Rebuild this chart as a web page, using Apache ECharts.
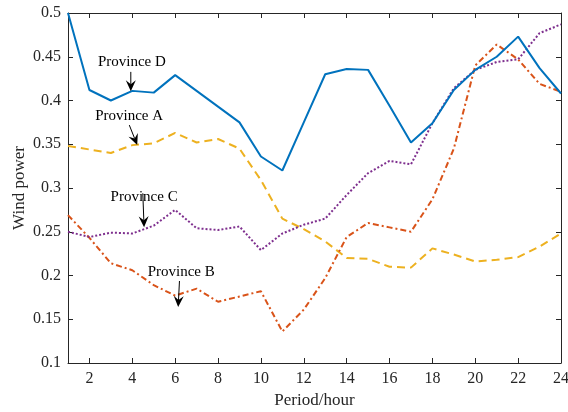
<!DOCTYPE html>
<html>
<head>
<meta charset="utf-8">
<script src="https://cdn.jsdelivr.net/npm/echarts@6/dist/echarts.min.js"></script>
<style>html,body{margin:0;padding:0;background:#fff}#c{width:568px;height:412px}</style>
</head>
<body>
<div id="c"></div>
<script>
var periods = [1,2,3,4,5,6,7,8,9,10,11,12,13,14,15,16,17,18,19,20,21,22,23,24];
var xTicks = [2,4,6,8,10,12,14,16,18,20,22,24];
var provinceA = [0.348,0.344,0.340,0.349,0.351,0.363,0.352,0.356,0.345,0.309,0.265,0.253,0.239,0.220,0.219,0.210,0.209,0.231,0.224,0.216,0.218,0.221,0.233,0.248];
var provinceB = [0.269,0.243,0.214,0.206,0.189,0.177,0.185,0.170,0.176,0.182,0.136,0.161,0.197,0.244,0.260,0.255,0.250,0.287,0.345,0.440,0.464,0.447,0.419,0.410];
var provinceC = [0.250,0.244,0.249,0.248,0.257,0.275,0.254,0.252,0.256,0.229,0.248,0.258,0.265,0.292,0.317,0.331,0.327,0.374,0.414,0.435,0.444,0.447,0.477,0.487];
var provinceD = [0.500,0.412,0.400,0.411,0.409,0.429,0.411,0.393,0.375,0.336,0.320,0.375,0.430,0.436,0.435,0.394,0.352,0.374,0.412,0.435,0.450,0.473,0.437,0.408];
// annotations: label, text anchor [period, value], arrow start, arrow end
var annotations = [
  {text:'Province D', at:[3.98,0.4442], from:[3.93,0.4327], to:[3.93,0.4107]},
  {text:'Province A', at:[3.85,0.3821], from:[3.86,0.3719], to:[4.23,0.3491]},
  {text:'Province C', at:[4.55,0.2896], from:[4.49,0.2939], to:[4.55,0.2552]},
  {text:'Province B', at:[6.28,0.2036], from:[6.20,0.1937], to:[6.14,0.1640]}
];

function pairs(arr){ return periods.map(function(p,i){ return [p, arr[i]]; }); }

var FONT = 'Liberation Serif';
var AX = '#262626';
var chart = echarts.init(document.getElementById('c'), null, {renderer:'canvas'});
var tickCommon = {show:true, inside:true, length:5, lineStyle:{color:AX, width:1}};
var option = {
  animation:false,
  backgroundColor:'#fff',
  grid:{left:68, right:7, top:13, bottom:49, containLabel:false, outerBoundsMode:'none'},
  xAxis:[{
    type:'value', min:1, max:24, position:'bottom',
    name:'Period/hour', nameLocation:'middle', nameGap:27,
    nameTextStyle:{fontFamily:FONT, fontSize:17, color:AX},
    axisLine:{show:true, onZero:false, lineStyle:{color:AX, width:1}},
    axisTick:Object.assign({customValues:xTicks}, tickCommon),
    axisLabel:{customValues:xTicks, fontFamily:FONT, fontSize:16, color:AX, margin:8},
    splitLine:{show:false}
  },{
    type:'value', min:1, max:24, position:'top',
    axisLine:{show:true, onZero:false, lineStyle:{color:AX, width:1}},
    axisTick:Object.assign({customValues:xTicks}, tickCommon),
    axisLabel:{show:false}, splitLine:{show:false}
  }],
  yAxis:[{
    type:'value', min:0.1, max:0.5, interval:0.05, position:'left',
    name:'Wind power', nameLocation:'middle', nameGap:40, nameMoveOverlap:false,
    nameTextStyle:{fontFamily:FONT, fontSize:17, color:AX},
    axisLine:{show:true, onZero:false, lineStyle:{color:AX, width:1}},
    axisTick:tickCommon,
    axisLabel:{fontFamily:FONT, fontSize:16, color:AX, margin:7},
    splitLine:{show:false}
  },{
    type:'value', min:0.1, max:0.5, interval:0.05, position:'right',
    axisLine:{show:true, onZero:false, lineStyle:{color:AX, width:1}},
    axisTick:tickCommon,
    axisLabel:{show:false}, splitLine:{show:false}
  }],
  series:[
    {name:'Province A', type:'line', data:pairs(provinceA), showSymbol:false, symbol:'none',
      lineStyle:{color:'#EDB120', width:2, type:[8,5]}},
    {name:'Province B', type:'line', data:pairs(provinceB), showSymbol:false, symbol:'none',
      lineStyle:{color:'#D95319', width:2, type:[6,3,2,3]}},
    {name:'Province C', type:'line', data:pairs(provinceC), showSymbol:false, symbol:'none',
      lineStyle:{color:'#7E2F8E', width:2, type:[2,2]}},
    {name:'Province D', type:'line', data:pairs(provinceD), showSymbol:false, symbol:'none',
      lineStyle:{color:'#0072BD', width:2}}
  ]
};
chart.setOption(option);

var g = [];
annotations.forEach(function(a){
  var t = chart.convertToPixel({gridIndex:0}, a.at);
  var p0 = chart.convertToPixel({gridIndex:0}, a.from);
  var p1 = chart.convertToPixel({gridIndex:0}, a.to);
  g.push({type:'text', x:t[0], y:t[1], z:100,
    style:{text:a.text, fontFamily:FONT, fontSize:15, fill:'#000', align:'center', verticalAlign:'middle'}});
  var dx = p1[0]-p0[0], dy = p1[1]-p0[1], L = Math.sqrt(dx*dx+dy*dy);
  var ux = dx/L, uy = dy/L, nx = -uy, ny = ux;
  var hl = 11, hw = 5, back = 7;
  var base = [p1[0]-ux*hl, p1[1]-uy*hl];
  var notch = [p1[0]-ux*back, p1[1]-uy*back];
  g.push({type:'line', z:100, shape:{x1:p0[0], y1:p0[1], x2:notch[0], y2:notch[1]},
    style:{stroke:'#000', lineWidth:1}});
  g.push({type:'polygon', z:100, shape:{points:[
    [p1[0],p1[1]], [base[0]+nx*hw, base[1]+ny*hw], [notch[0],notch[1]], [base[0]-nx*hw, base[1]-ny*hw]
  ]}, style:{fill:'#000'}});
});
chart.setOption({graphic:g});
</script>
</body>
</html>
